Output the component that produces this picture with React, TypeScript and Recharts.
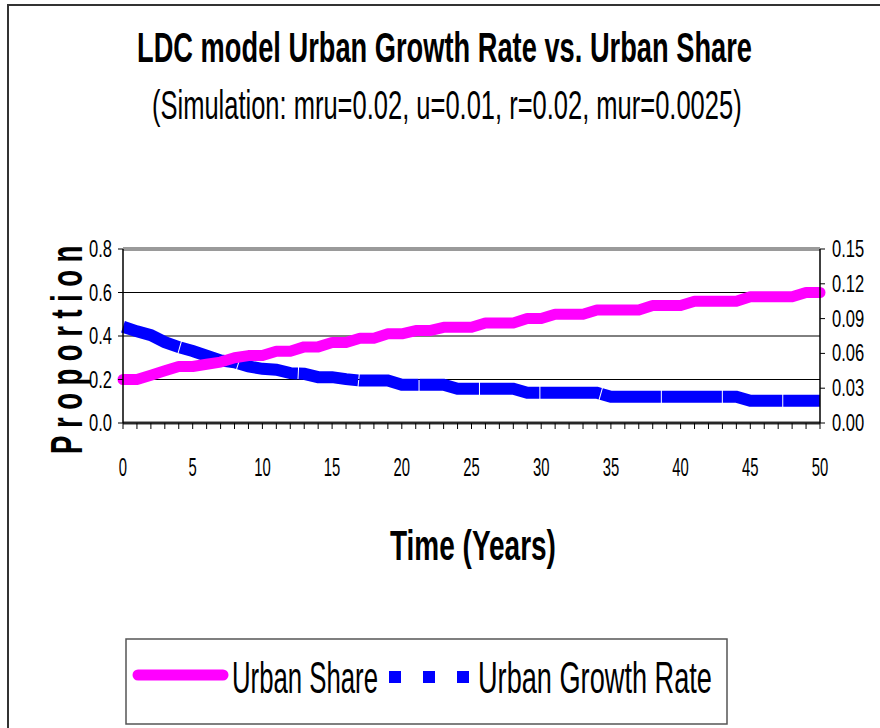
import React, { useLayoutEffect, useRef, useState } from 'react';
import { LineChart, Line, XAxis, YAxis, CartesianGrid, ReferenceLine } from 'recharts';

const years = [
  0, 1, 2, 3, 4, 5, 6, 7, 8, 9, 10, 11, 12, 13, 14, 15, 16, 17, 18, 19, 20, 21, 22, 23, 24, 25,
  26, 27, 28, 29, 30, 31, 32, 33, 34, 35, 36, 37, 38, 39, 40, 41, 42, 43, 44, 45, 46, 47, 48, 49, 50,
];

const urbanShare = [
  0.2, 0.2, 0.22, 0.24, 0.26, 0.26, 0.27, 0.28, 0.3, 0.31,
  0.31, 0.33, 0.33, 0.35, 0.35, 0.37, 0.37, 0.39, 0.39, 0.41,
  0.41, 0.425, 0.425, 0.44, 0.44, 0.44, 0.46, 0.46, 0.46, 0.48,
  0.48, 0.5, 0.5, 0.5, 0.52, 0.52, 0.52, 0.52, 0.54, 0.54,
  0.54, 0.56, 0.56, 0.56, 0.56, 0.58, 0.58, 0.58, 0.58, 0.6, 0.6,
];

const urbanGrowthRate = [
  0.083, 0.079, 0.0757, 0.0697, 0.0654, 0.062, 0.058, 0.054, 0.0524, 0.0487,
  0.0467, 0.0459, 0.043, 0.0424, 0.0395, 0.0395, 0.0378, 0.0366, 0.0366, 0.0366,
  0.033, 0.033, 0.033, 0.033, 0.0295, 0.0295, 0.0295, 0.0295, 0.0295, 0.026,
  0.026, 0.026, 0.026, 0.026, 0.026, 0.0226, 0.0226, 0.0226, 0.0226, 0.0226,
  0.0226, 0.0226, 0.0226, 0.0226, 0.0226, 0.0191, 0.0191, 0.0191, 0.0191, 0.0191, 0.0191,
];

const leftTicks = [0, 0.2, 0.4, 0.6, 0.8];
const rightTicks = [0, 0.03, 0.06, 0.09, 0.12, 0.15];
const xLabelEvery = 5;

const titleText = 'LDC model Urban Growth Rate vs. Urban Share';
const subtitleText = '(Simulation: mru=0.02, u=0.01, r=0.02, mur=0.0025)';
const xTitle = 'Time (Years)';
const yTitle = 'Proportion';
const seriesNames = ['Urban Share', 'Urban Growth Rate'];

const data = years.map((t, i) => ({ t, share: urbanShare[i], growth: urbanGrowthRate[i] }));

const FONT = '"Liberation Sans", Arial, sans-serif';

type FitProps = {
  x: number;
  y: number;
  width: number;
  size: number;
  weight?: string;
  rotate?: number;
  letterSpacing?: number;
  children: string;
};

function FitText({ x, y, width, size, weight = 'normal', rotate = 0, letterSpacing = 0, children }: FitProps) {
  const ref = useRef<SVGTextElement>(null);
  const [s, setS] = useState(1);
  useLayoutEffect(() => {
    if (ref.current) {
      const len = ref.current.getComputedTextLength();
      if (len > 0) setS(width / len);
    }
  }, [width, size, children, letterSpacing]);
  return (
    <text
      ref={ref}
      transform={`translate(${x},${y}) rotate(${rotate}) scale(${s},1)`}
      x={0}
      y={0}
      fontSize={size}
      fontWeight={weight}
      fontFamily={FONT}
      letterSpacing={letterSpacing}
      fill="#000"
    >
      {children}
    </text>
  );
}

const XTick = (props: any) => {
  const { x, y, payload } = props;
  if (payload.value % xLabelEvery !== 0) return <g />;
  return (
    <g transform={`translate(${x},${y})`}>
      <text transform="scale(0.57,1)" x={0} y={45} textAnchor="middle" fontSize={26} fontFamily={FONT} fill="#000">
        {payload.value}
      </text>
    </g>
  );
};

const LeftTick = (props: any) => {
  const { x, y, payload } = props;
  return (
    <g transform={`translate(${x - 4},${y})`}>
      <text transform="scale(0.72,1)" x={0} y={8} textAnchor="end" fontSize={23} fontFamily={FONT} fill="#000">
        {Number(payload.value).toFixed(1)}
      </text>
    </g>
  );
};

const RightTick = (props: any) => {
  const { x, y, payload } = props;
  return (
    <g transform={`translate(${x + 5},${y})`}>
      <text transform="scale(0.72,1)" x={0} y={8} textAnchor="start" fontSize={23} fontFamily={FONT} fill="#000">
        {Number(payload.value).toFixed(2)}
      </text>
    </g>
  );
};

export default function App() {
  return (
    <div style={{ position: 'absolute', left: 0, top: 0, width: 880, height: 728, background: '#fff', overflow: 'hidden' }}>
      <LineChart
        width={880}
        height={728}
        data={data}
        margin={{ top: 249, right: 0, left: 0, bottom: 245 }}
      >
        <CartesianGrid yAxisId="left" vertical={false} stroke="#000" strokeWidth={1} />
        <ReferenceLine yAxisId="left" y={0.8} stroke="#9a9a9a" strokeWidth={4} />
        <ReferenceLine yAxisId="left" y={0} stroke="#9a9a9a" strokeWidth={4} />
        <XAxis
          dataKey="t"
          type="number"
          domain={[0, 50]}
          ticks={years}
          interval={0}
          height={60}
          tickSize={6}
          tick={XTick}
          axisLine={{ stroke: '#000', strokeWidth: 1.5 }}
          tickLine={{ stroke: '#000', strokeWidth: 1 }}
        />
        <YAxis
          yAxisId="left"
          width={123}
          domain={[0, 0.8]}
          ticks={leftTicks}
          interval={0}
          tickSize={5}
          tick={LeftTick}
          axisLine={{ stroke: '#000', strokeWidth: 1.5 }}
          tickLine={{ stroke: '#000' }}
        />
        <YAxis
          yAxisId="right"
          orientation="right"
          width={60}
          domain={[0, 0.15]}
          ticks={rightTicks}
          interval={0}
          tickSize={5}
          tick={RightTick}
          axisLine={{ stroke: '#000', strokeWidth: 1.5 }}
          tickLine={{ stroke: '#000' }}
        />
        <Line
          yAxisId="right"
          dataKey="growth"
          type="linear"
          stroke="#0000ff"
          strokeWidth={12}
          strokeLinecap="butt"
          strokeLinejoin="miter"
          strokeDasharray="60 1"
          dot={false}
          activeDot={false}
          isAnimationActive={false}
        />
        <Line
          yAxisId="left"
          dataKey="share"
          type="linear"
          stroke="#ff00ff"
          strokeWidth={11}
          strokeLinecap="round"
          strokeLinejoin="round"
          dot={false}
          activeDot={false}
          isAnimationActive={false}
        />
      </LineChart>
      <svg
        width={880}
        height={728}
        style={{ position: 'absolute', left: 0, top: 0, pointerEvents: 'none' }}
      >
        <rect x={8} y={5} width={900} height={760} fill="none" stroke="#333" strokeWidth={2} />
        <FitText x={137} y={62} width={615} size={43} weight="bold">
          {titleText}
        </FitText>
        <FitText x={152} y={119} width={590} size={41}>
          {subtitleText}
        </FitText>
        <FitText x={390} y={560} width={166} size={43} weight="bold">
          {xTitle}
        </FitText>
        <FitText x={82} y={454} width={216} size={44} weight="bold" rotate={-90} letterSpacing={12}>
          {yTitle}
        </FitText>
        <rect x={126} y={639} width={601} height={85} fill="none" stroke="#555" strokeWidth={1.5} />
        <line x1={138} y1={675} x2={223} y2={675} stroke="#ff00ff" strokeWidth={11} strokeLinecap="round" />
        <FitText x={232} y={693} width={146} size={45}>
          {seriesNames[0]}
        </FitText>
        <line x1={389} y1={677} x2={482} y2={677} stroke="#0000ff" strokeWidth={12} strokeDasharray="12 22" />
        <FitText x={478} y={693} width={234} size={45}>
          {seriesNames[1]}
        </FitText>
      </svg>
    </div>
  );
}
